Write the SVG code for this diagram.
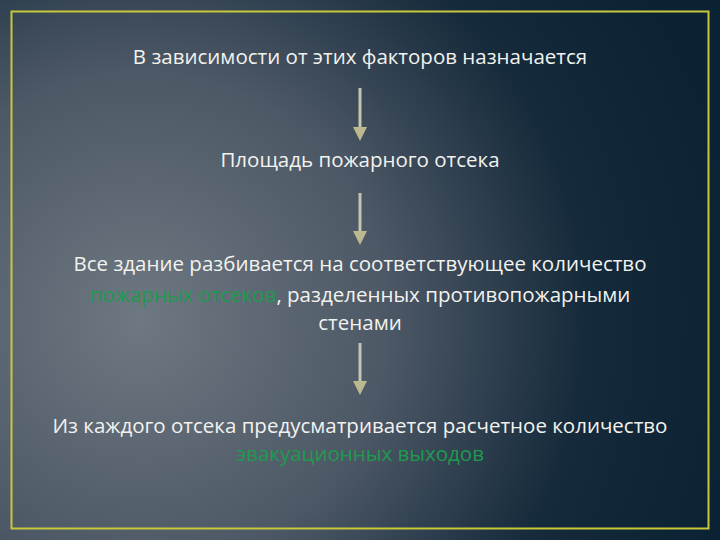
<svg xmlns="http://www.w3.org/2000/svg" width="720" height="540" viewBox="0 0 720 540">
<defs>
<radialGradient id="bg" cx="140" cy="320" r="620" gradientUnits="userSpaceOnUse">
<stop offset="0" stop-color="#6e7882"/>
<stop offset="0.4" stop-color="#4d5866"/>
<stop offset="0.72" stop-color="#152a3b"/>
<stop offset="1" stop-color="#0a2233"/>
</radialGradient>
<style>
.t{font-family:"Open Sans","Noto Sans",sans-serif;font-size:20.5px;fill:#f2f2ee;text-anchor:middle}
.g{fill:#1e9a4e}
.c{stroke:#c4c4b0;stroke-width:3;fill:none}
.h{fill:#bcb890}
</style>
</defs>
<rect x="0" y="0" width="720" height="540" fill="url(#bg)"/>
<rect x="11.5" y="11.5" width="697" height="517" fill="none" stroke="#c8c83a" stroke-width="2"/>
<g id="connectors">
<line class="c" x1="360" y1="88" x2="360" y2="128"/>
<path class="h" d="M353,127 L367,127 L360,141 Z"/>
<line class="c" x1="360" y1="193" x2="360" y2="232"/>
<path class="h" d="M353,231 L367,231 L360,245 Z"/>
<line class="c" x1="360" y1="343" x2="360" y2="382"/>
<path class="h" d="M353,381 L367,381 L360,395 Z"/>
</g>
<g id="n1"><text class="t" x="360" y="64">В зависимости от этих факторов назначается</text></g>
<g id="n2"><text class="t" x="360" y="167">Площадь пожарного отсека</text></g>
<g id="n3">
<text class="t" x="360" y="271">Все здание разбивается на соответствующее количество</text>
<text class="t" x="360" y="302"><tspan class="g">пожарных отсеков</tspan>, разделенных противопожарными</text>
<text class="t" x="360" y="330">стенами</text>
</g>
<g id="n4">
<text class="t" x="360" y="433">Из каждого отсека предусматривается расчетное количество</text>
<text class="t g" x="360" y="461">эвакуационных выходов</text>
</g>
</svg>
